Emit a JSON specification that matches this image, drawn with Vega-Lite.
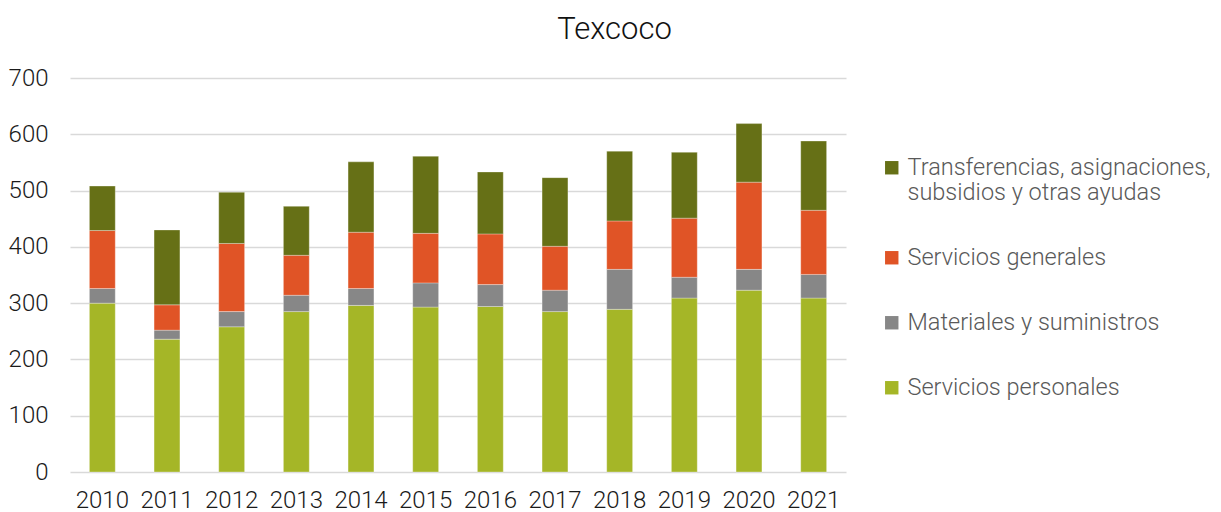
{
  "$schema": "https://vega.github.io/schema/vega-lite/v6.json",
  "width": 776,
  "height": 394,
  "padding": {"left": 8, "top": 14, "right": 10, "bottom": 5},
  "background": "white",
  "title": {"text": "Texcoco", "fontSize": 31, "font": "Roboto", "fontWeight": 300, "color": "#111111", "anchor": "middle", "frame": "bounds", "offset": 20, "dx": 5},
  "config": {
    "view": {"stroke": null},
    "font": "Roboto"
  },
  "data": {
    "values": [
      {"year": "2010", "cat": "Servicios personales", "o": 1, "v": 300},
      {"year": "2010", "cat": "Materiales y suministros", "o": 2, "v": 26},
      {"year": "2010", "cat": "Servicios generales", "o": 3, "v": 103},
      {"year": "2010", "cat": "Transferencias, asignaciones, subsidios y otras ayudas", "o": 4, "v": 79},
      {"year": "2011", "cat": "Servicios personales", "o": 1, "v": 236},
      {"year": "2011", "cat": "Materiales y suministros", "o": 2, "v": 16},
      {"year": "2011", "cat": "Servicios generales", "o": 3, "v": 45},
      {"year": "2011", "cat": "Transferencias, asignaciones, subsidios y otras ayudas", "o": 4, "v": 133},
      {"year": "2012", "cat": "Servicios personales", "o": 1, "v": 258},
      {"year": "2012", "cat": "Materiales y suministros", "o": 2, "v": 27},
      {"year": "2012", "cat": "Servicios generales", "o": 3, "v": 121},
      {"year": "2012", "cat": "Transferencias, asignaciones, subsidios y otras ayudas", "o": 4, "v": 91},
      {"year": "2013", "cat": "Servicios personales", "o": 1, "v": 285},
      {"year": "2013", "cat": "Materiales y suministros", "o": 2, "v": 29},
      {"year": "2013", "cat": "Servicios generales", "o": 3, "v": 71},
      {"year": "2013", "cat": "Transferencias, asignaciones, subsidios y otras ayudas", "o": 4, "v": 87},
      {"year": "2014", "cat": "Servicios personales", "o": 1, "v": 296},
      {"year": "2014", "cat": "Materiales y suministros", "o": 2, "v": 30},
      {"year": "2014", "cat": "Servicios generales", "o": 3, "v": 100},
      {"year": "2014", "cat": "Transferencias, asignaciones, subsidios y otras ayudas", "o": 4, "v": 125},
      {"year": "2015", "cat": "Servicios personales", "o": 1, "v": 293},
      {"year": "2015", "cat": "Materiales y suministros", "o": 2, "v": 43},
      {"year": "2015", "cat": "Servicios generales", "o": 3, "v": 88},
      {"year": "2015", "cat": "Transferencias, asignaciones, subsidios y otras ayudas", "o": 4, "v": 137},
      {"year": "2016", "cat": "Servicios personales", "o": 1, "v": 294},
      {"year": "2016", "cat": "Materiales y suministros", "o": 2, "v": 39},
      {"year": "2016", "cat": "Servicios generales", "o": 3, "v": 90},
      {"year": "2016", "cat": "Transferencias, asignaciones, subsidios y otras ayudas", "o": 4, "v": 110},
      {"year": "2017", "cat": "Servicios personales", "o": 1, "v": 285},
      {"year": "2017", "cat": "Materiales y suministros", "o": 2, "v": 38},
      {"year": "2017", "cat": "Servicios generales", "o": 3, "v": 78},
      {"year": "2017", "cat": "Transferencias, asignaciones, subsidios y otras ayudas", "o": 4, "v": 122},
      {"year": "2018", "cat": "Servicios personales", "o": 1, "v": 289},
      {"year": "2018", "cat": "Materiales y suministros", "o": 2, "v": 71},
      {"year": "2018", "cat": "Servicios generales", "o": 3, "v": 86},
      {"year": "2018", "cat": "Transferencias, asignaciones, subsidios y otras ayudas", "o": 4, "v": 124},
      {"year": "2019", "cat": "Servicios personales", "o": 1, "v": 309},
      {"year": "2019", "cat": "Materiales y suministros", "o": 2, "v": 37},
      {"year": "2019", "cat": "Servicios generales", "o": 3, "v": 105},
      {"year": "2019", "cat": "Transferencias, asignaciones, subsidios y otras ayudas", "o": 4, "v": 117},
      {"year": "2020", "cat": "Servicios personales", "o": 1, "v": 323},
      {"year": "2020", "cat": "Materiales y suministros", "o": 2, "v": 37},
      {"year": "2020", "cat": "Servicios generales", "o": 3, "v": 155},
      {"year": "2020", "cat": "Transferencias, asignaciones, subsidios y otras ayudas", "o": 4, "v": 104},
      {"year": "2021", "cat": "Servicios personales", "o": 1, "v": 309},
      {"year": "2021", "cat": "Materiales y suministros", "o": 2, "v": 42},
      {"year": "2021", "cat": "Servicios generales", "o": 3, "v": 114},
      {"year": "2021", "cat": "Transferencias, asignaciones, subsidios y otras ayudas", "o": 4, "v": 123}
    ]
  },
  "mark": {"type": "bar", "width": {"band": 0.4}, "stroke": "white", "strokeWidth": 0.6, "strokeOpacity": 0.5},
  "encoding": {
    "x": {
      "field": "year", "type": "ordinal", "title": null,
      "scale": {"paddingInner": 0, "paddingOuter": 0},
      "axis": {"labelAngle": 0, "labelFontSize": 24, "labelColor": "#1a1a1a", "labelFont": "Roboto", "labelFontWeight": 300, "ticks": false, "domain": false, "labelPadding": 16}
    },
    "y": {
      "field": "v", "type": "quantitative", "aggregate": "sum", "title": null,
      "scale": {"domain": [0, 700]},
      "axis": {"values": [0, 100, 200, 300, 400, 500, 600, 700], "labelFontSize": 24, "labelColor": "#1a1a1a", "labelFont": "Roboto", "labelFontWeight": 300, "ticks": false, "domain": false, "labelPadding": 22, "gridColor": "#d9d9d9", "gridWidth": 1.5}
    },
    "color": {
      "field": "cat", "type": "nominal", "title": null,
      "scale": {
        "domain": ["Transferencias, asignaciones, subsidios y otras ayudas", "Servicios generales", "Materiales y suministros", "Servicios personales"],
        "range": ["#667016", "#E05426", "#878787", "#A5B627"]
      },
      "legend": {
        "orient": "none", "legendX": 810, "legendY": 78,
        "symbolType": "square", "symbolSize": 180, "symbolStrokeWidth": 0,
        "labelFontSize": 23.5, "labelFont": "Roboto", "labelFontWeight": 300, "labelColor": "#595959",
        "labelLimit": 400, "rowPadding": 40, "labelOffset": 4,
        "labelExpr": "datum.label == 'Transferencias, asignaciones, subsidios y otras ayudas' ? ['Transferencias, asignaciones,', 'subsidios y otras ayudas'] : datum.label"
      }
    },
    "order": {"field": "o", "type": "quantitative"}
  }
}
